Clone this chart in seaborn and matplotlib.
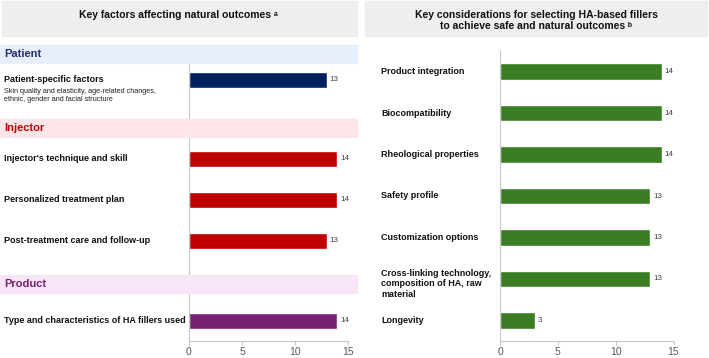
import numpy as np
import seaborn as sns
import matplotlib.pyplot as plt
from matplotlib.patches import Rectangle
from matplotlib.transforms import blended_transform_factory

# left panel data
left_groups = ['Patient', 'Injector', 'Product']
left_items = ['Patient-specific factors',
              "Injector's technique and skill",
              'Personalized treatment plan',
              'Post-treatment care and follow-up',
              'Type and characteristics of HA fillers used']
left_item_group = ['Patient', 'Injector', 'Injector', 'Injector', 'Product']
left_values = [13, 14, 14, 13, 14]
patient_note = 'Skin quality and elasticity, age-related changes,\nethnic, gender and facial structure'

# right panel data
right_items = ['Product integration', 'Biocompatibility', 'Rheological properties',
               'Safety profile', 'Customization options',
               'Cross-linking technology,\ncomposition of HA, raw\nmaterial',
               'Longevity']
right_values = [14, 14, 14, 13, 13, 13, 3]

x_ticks = [0, 5, 10, 15]

group_bar = {'Patient': '#002060', 'Injector': '#c00000', 'Product': '#762070'}
group_band = {'Patient': '#e6effb', 'Injector': '#fde6e7', 'Product': '#f8e6f6'}
group_text = {'Patient': '#1f2f6e', 'Injector': '#c00000', 'Product': '#762070'}
green = '#3a7d23'

sns.set_style('white')
plt.rcParams['font.family'] = ['Liberation Sans', 'DejaVu Sans']

W, H = 709, 358
fig = plt.figure(figsize=(W / 100, H / 100), dpi=100)


def px_rect(x0, y0, x1, y1):
    # figure-fraction rect from pixel box (top-left origin)
    return [x0 / W, 1 - y1 / H, (x1 - x0) / W, (y1 - y0) / H]


# title boxes
for (x0, x1) in [(2, 357), (365, 707)]:
    fig.patches.append(Rectangle((x0 / W, 1 - 36 / H), (x1 - x0) / W, 35 / H,
                                 transform=fig.transFigure, color='#eeeeee', zorder=0))
fig.text(178 / W, 1 - 14.5 / H, 'Key factors affecting natural outcomes \u1d43',
         ha='center', va='center', fontsize=7.5, fontweight='bold', color='#111111')
fig.text(536 / W, 1 - 20.5 / H,
         'Key considerations for selecting HA-based fillers\nto achieve safe and natural outcomes \u1d47',
         ha='center', va='center', fontsize=7.5, fontweight='bold', color='#111111',
         linespacing=1.15)

# ---- left panel ----
pitch = 41.0
top_px, bot_px = 45, 341
ax1 = fig.add_axes(px_rect(189, top_px, 348, bot_px))

# row layout (in bar pitches): header, gap, items, trailing gap
header_gap = [0.63, 0.76, 0.9]
trail_gap = [0.17, 0.05, 0.0]
pos, header_pos, item_pos = 0.0, {}, []
for g, hg, tg in zip(left_groups, header_gap, trail_gap):
    header_pos[g] = pos
    pos += hg
    for k in range(left_item_group.count(g)):
        item_pos.append(pos)
        pos += 1.0
    pos += tg
y0 = 54  # pixel of first header centre
ylim_top = (top_px - y0) / pitch
ylim_bot = (bot_px - y0) / pitch

sns.barplot(x=left_values, y=item_pos, hue=left_item_group, palette=group_bar,
            orient='y', native_scale=True, dodge=False, width=15.5 / pitch,
            legend=False, ax=ax1, saturation=1)
ax1.set_ylim(ylim_bot, ylim_top)

band_h = 18 / pitch
trans1 = blended_transform_factory(fig.transFigure, ax1.transData)
for g in left_groups:
    h = header_pos[g]
    ax1.add_patch(Rectangle((0, h - band_h / 2), 357 / W, band_h, transform=trans1,
                            color=group_band[g], clip_on=False, zorder=4))
    ax1.text(4 / W, h, g, transform=trans1, ha='left', va='center', fontsize=8,
             fontweight='bold', color=group_text[g], zorder=5)
for name, y in zip(left_items, item_pos):
    ax1.text(4 / W, y, name, transform=trans1, ha='left', va='center',
             fontsize=6.5, fontweight='bold', color='#111111')
ax1.text(4 / W, item_pos[0] + 0.38, patient_note, transform=trans1, ha='left',
         va='center', fontsize=5.2, color='#222222', linespacing=1.1)

# ---- right panel ----
ax2 = fig.add_axes(px_rect(500, 51, 673.5, 341))
sns.barplot(x=right_values, y=right_items, color=green, orient='y', width=0.4,
            ax=ax2, saturation=1)
ax2.set_ylim(len(right_items) - 0.5, -0.5)
trans2 = blended_transform_factory(fig.transFigure, ax2.transData)
for i, name in enumerate(right_items):
    ax2.text(381 / W, i + (0.12 if '\n' in name else 0), name, transform=trans2,
             ha='left', va='center', fontsize=6.5, fontweight='bold',
             color='#111111', linespacing=1.25)

for ax in (ax1, ax2):
    for c in ax.containers:
        ax.bar_label(c, padding=2, fontsize=5.8, color='#404040')
    ax.set_xlim(0, 15)
    ax.set_xticks(x_ticks)
    ax.set_yticks([])
    ax.set_xlabel('')
    ax.set_ylabel('')
    for s in ('top', 'right'):
        ax.spines[s].set_visible(False)
    for s in ('left', 'bottom'):
        ax.spines[s].set_color('#c8c8c8')
        ax.spines[s].set_linewidth(0.8)
    ax.tick_params(axis='x', bottom=True, length=3, width=0.8, color='#c8c8c8',
                   labelsize=7.5, labelcolor='#595959', pad=1.5)
    ax.set_facecolor('none')

ax1.spines['left'].set_bounds(header_pos['Patient'] + band_h / 2, ylim_bot)

fig.savefig('out.png', dpi=100)
